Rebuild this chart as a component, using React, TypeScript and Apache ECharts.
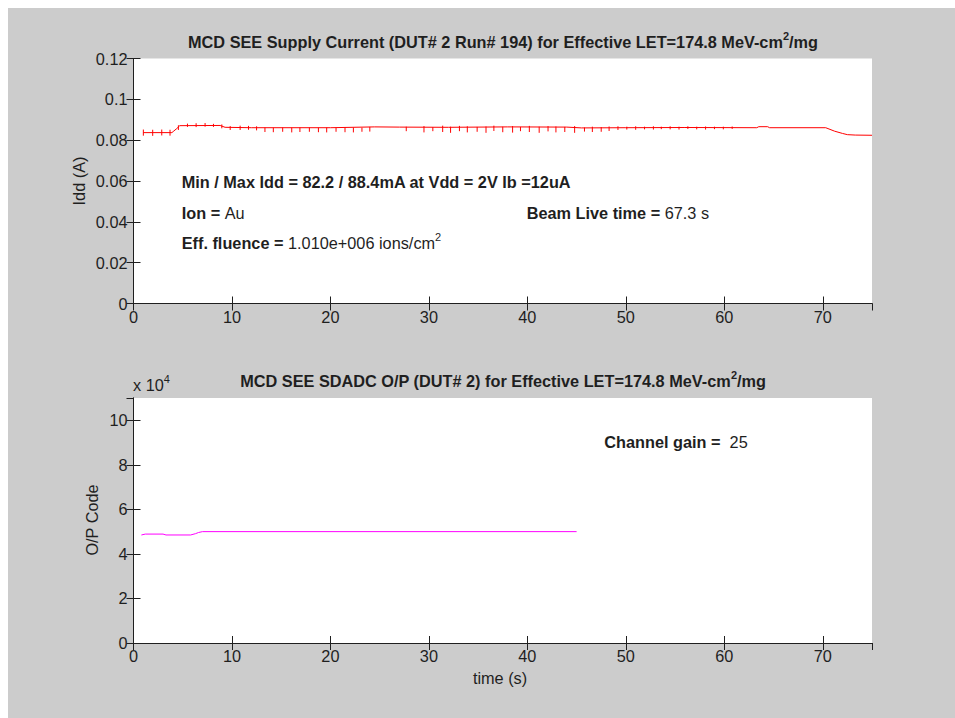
import React, { useEffect, useRef } from "react";
import * as echarts from "echarts";

// ---- data ----
const iddTime = [1.0, 3.9, 4.1, 4.4, 4.7, 8.8, 9.3, 12, 20, 24.5, 27, 32, 38, 44, 45.5, 50, 56, 63.3, 63.5, 64.4, 64.6, 70.3, 71.2, 72.0, 72.5, 73.3, 75];
const iddValue = [0.0837, 0.0837, 0.0845, 0.0857, 0.0871, 0.0872, 0.0863, 0.0861, 0.0861, 0.0865, 0.0864, 0.0863, 0.0865, 0.0864, 0.0860, 0.0861, 0.0862, 0.0861, 0.0866, 0.0866, 0.0861, 0.0861, 0.0844, 0.0833, 0.0827, 0.0825, 0.0824];

const spikeTime = [1.0, 1.95, 2.87, 3.71, 4.56, 5.48, 6.36, 7.27, 8.12, 8.97, 9.82, 10.83, 11.68, 12.5, 13.35, 14.2, 15.15, 16.07, 16.9, 17.86, 18.78, 19.62, 20.57, 21.48, 22.33, 23.2, 24.0, 27.7, 29.5, 30.4, 31.4, 32.2, 33.1, 33.9, 34.9, 35.8, 36.6, 37.5, 38.5, 39.3, 40.2, 41.2, 42.1, 42.9, 43.8, 44.8, 45.8, 46.6, 47.5, 48.3, 49.2, 50.1, 51.0, 51.9, 52.8, 53.6, 54.5, 55.4, 56.3, 57.2, 58.1, 59.0, 59.9, 60.8];
const spikeLow = [0.0822, 0.0821, 0.0823, 0.0822, 0.0850, 0.0865, 0.0864, 0.0866, 0.0865, 0.0858, 0.0850, 0.0850, 0.0851, 0.0848, 0.0840, 0.0839, 0.0841, 0.0838, 0.0840, 0.0841, 0.0839, 0.0838, 0.0841, 0.0839, 0.0838, 0.0841, 0.0842, 0.0844, 0.0838, 0.0844, 0.0840, 0.0836, 0.0844, 0.0838, 0.0841, 0.0836, 0.0845, 0.0839, 0.0837, 0.0844, 0.0840, 0.0836, 0.0843, 0.0838, 0.0840, 0.0836, 0.0842, 0.0840, 0.0841, 0.0845, 0.0850, 0.0852, 0.0851, 0.0853, 0.0852, 0.0854, 0.0853, 0.0852, 0.0855, 0.0853, 0.0852, 0.0854, 0.0853, 0.0855];
const spikeHigh = [0.0852, 0.0851, 0.0852, 0.0851, 0.0873, 0.0881, 0.0883, 0.0884, 0.0880, 0.0877, 0.0869, 0.0871, 0.0870, 0.0868, 0.0862, 0.0861, 0.0862, 0.0861, 0.0862, 0.0862, 0.0861, 0.0862, 0.0861, 0.0862, 0.0862, 0.0861, 0.0865, 0.0866, 0.0869, 0.0864, 0.0871, 0.0866, 0.0870, 0.0868, 0.0865, 0.0867, 0.0871, 0.0866, 0.0869, 0.0865, 0.0870, 0.0866, 0.0869, 0.0867, 0.0865, 0.0869, 0.0862, 0.0866, 0.0864, 0.0867, 0.0868, 0.0866, 0.0868, 0.0866, 0.0868, 0.0866, 0.0868, 0.0866, 0.0868, 0.0866, 0.0867, 0.0866, 0.0866, 0.0867];

const opTime = [0.8, 1.2, 3.0, 3.3, 5.8, 6.3, 6.6, 7.0, 45.0];
const opCode = [48500, 48900, 48900, 48500, 48500, 49100, 49600, 50000, 50000];

const xTickInterval = 10;
const iddTicks = { min: 0, max: 0.12, interval: 0.02 };
const opTicks = { min: 0, max: 110000, interval: 20000, scale: 10000 };

const FONT = '"Liberation Sans", Arial, sans-serif';
const INK = "#1f1f1f";
const FS = 16.3;

export default function App() {
  const ref = useRef<HTMLDivElement>(null);
  useEffect(() => {
    if (!ref.current) return;
    const chart = echarts.init(ref.current, undefined, { renderer: "svg" });

    const grid1 = { left: 125.5, top: 50.5, width: 738.5, height: 245 };
    const grid2 = { left: 125.5, top: 390, width: 738.5, height: 245 };

    const axisLine = { show: true, lineStyle: { color: INK, width: 1 } };
    const axisTick = { show: true, inside: true, length: 7, lineStyle: { color: INK, width: 1 } };
    const labelStyle = { color: INK, fontFamily: FONT, fontSize: FS };

    const xAx = (gridIndex: number, position: string, labels: boolean) => ({
      type: "value",
      gridIndex,
      position,
      min: 0,
      max: 75,
      interval: xTickInterval,
      axisLine,
      axisTick,
      splitLine: { show: false },
      axisLabel: labels ? { ...labelStyle, margin: 5, showMaxLabel: false } : { show: false },
    });

    const yAx = (gridIndex: number, position: string, labels: boolean, t: any, fmt?: (v: number) => string) => ({
      type: "value",
      gridIndex,
      position,
      min: t.min,
      max: t.max,
      interval: t.interval,
      axisLine,
      axisTick,
      splitLine: { show: false },
      axisLabel: labels
        ? { ...labelStyle, margin: 6, showMaxLabel: t.max === 0.12, formatter: fmt }
        : { show: false },
    });

    const richBase = {
      b: { fontFamily: FONT, fontSize: FS, fontWeight: "bold", fill: INK, color: INK, lineHeight: 24 },
      n: { fontFamily: FONT, fontSize: FS, fontWeight: "normal", fill: INK, color: INK, lineHeight: 24 },
      s: { fontFamily: FONT, fontSize: 11, fontWeight: "bold", fill: INK, color: INK, lineHeight: 12, verticalAlign: "top" },
      sn: { fontFamily: FONT, fontSize: 11, fontWeight: "normal", fill: INK, color: INK, lineHeight: 12, verticalAlign: "top" },
    };

    const txt = (text: string, x: number, y: number, align = "left", rotation = 0) => ({
      type: "text",
      x,
      y,
      rotation,
      style: {
        text,
        rich: richBase,
        align,
        verticalAlign: "middle",
        fill: INK,
        font: `${FS}px ${FONT}`,
      },
    });

    const option: any = {
      animation: false,
      backgroundColor: "#cccccc",
      grid: [
        { ...grid1, show: true, backgroundColor: "#ffffff", borderWidth: 0 },
        { ...grid2, show: true, backgroundColor: "#ffffff", borderWidth: 0 },
      ],
      xAxis: [
        xAx(0, "bottom", true),
        xAx(0, "top", false),
        xAx(1, "bottom", true),
        xAx(1, "top", false),
      ],
      yAxis: [
        yAx(0, "left", true, iddTicks, (v: number) => (v === 0 ? "0" : String(+v.toFixed(2)))),
        yAx(0, "right", false, iddTicks),
        yAx(1, "left", true, opTicks, (v: number) => String(Math.round(v / opTicks.scale))),
        yAx(1, "right", false, opTicks),
      ],
      series: [
        {
          type: "line",
          xAxisIndex: 0,
          yAxisIndex: 0,
          data: iddTime.map((t, i) => [t, iddValue[i]]),
          symbol: "none",
          lineStyle: { color: "#ff0000", width: 1 },
          itemStyle: { color: "#ff0000" },
        },
        {
          type: "custom",
          xAxisIndex: 0,
          yAxisIndex: 0,
          data: spikeTime.map((t, i) => [t, spikeLow[i], spikeHigh[i]]),
          encode: { x: 0, y: [1, 2] },
          renderItem: (_p: any, api: any) => {
            const a = api.coord([api.value(0), api.value(1)]);
            const b = api.coord([api.value(0), api.value(2)]);
            return {
              type: "line",
              shape: { x1: a[0], y1: a[1], x2: b[0], y2: b[1] },
              style: { stroke: "#ff0000", lineWidth: 1 },
            };
          },
        },
        {
          type: "line",
          xAxisIndex: 2,
          yAxisIndex: 2,
          data: opTime.map((t, i) => [t, opCode[i]]),
          symbol: "none",
          lineStyle: { color: "#ff00ff", width: 1 },
          itemStyle: { color: "#ff00ff" },
        },
      ],
      graphic: [
        txt("{b|MCD SEE Supply Current (DUT# 2 Run# 194) for Effective LET=174.8 MeV-cm}{s|2}{b|/mg}", 495, 34, "center"),
        txt("{b|MCD SEE SDADC O/P (DUT# 2) for Effective LET=174.8 MeV-cm}{s|2}{b|/mg}", 495, 373, "center"),
        txt("{n|x 10}{sn|4}", 125, 377),
        txt("{b|Min / Max Idd = 82.2 / 88.4mA at Vdd = 2V Ib =12uA}", 173.7, 173.7),
        txt("{b|Ion = }{n|Au}", 173.7, 204.7),
        txt("{b|Beam Live time = }{n|67.3 s}", 518.7, 204.7),
        txt("{b|Eff. fluence = }{n|1.010e+006 ions/cm}{sn|2}", 173.7, 235.3),
        txt("{b|Channel gain =  }{n|25}", 596.3, 434.3),
        txt("{n|Idd (A)}", 71, 173, "center", Math.PI / 2),
        txt("{n|O/P Code}", 84, 512, "center", Math.PI / 2),
        txt("{n|time (s)}", 492, 670, "center"),
      ],
    };

    chart.setOption(option);
    return () => chart.dispose();
  }, []);

  return (
    <div
      ref={ref}
      style={{ position: "fixed", left: 8, top: 8, width: 947, height: 710, background: "#cccccc" }}
    />
  );
}
